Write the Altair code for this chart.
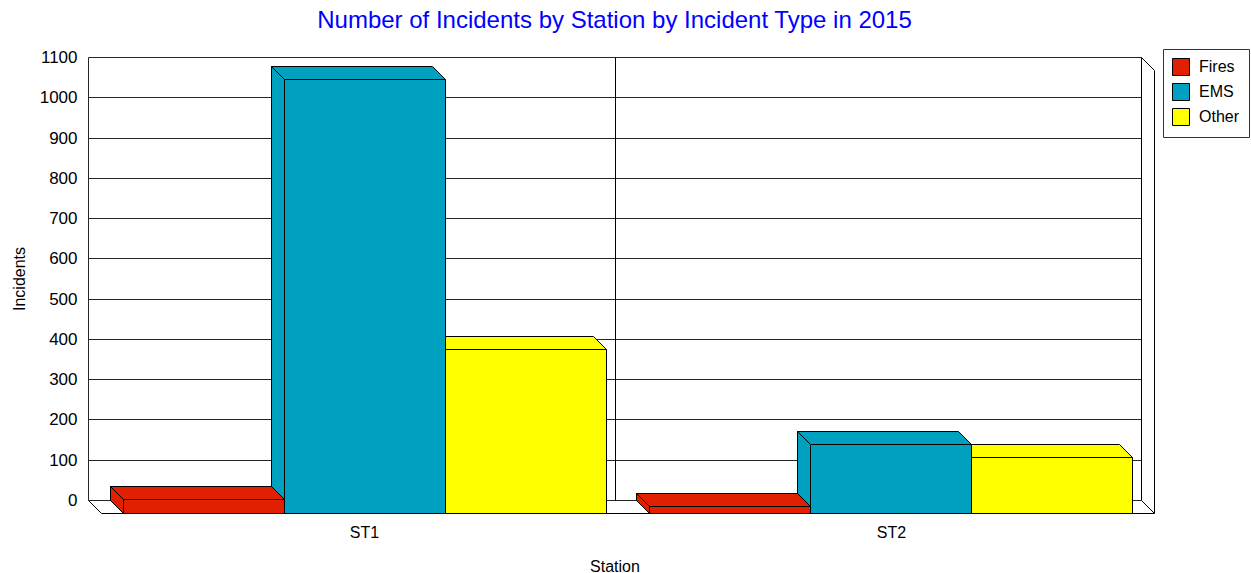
import altair as alt
import pandas as pd

# ---- chart values ----
stations = ["ST1", "ST2"]
incident_types = ["Fires", "EMS", "Other"]
fires = [36, 18]
ems = [1078, 172]
other = [408, 139]
type_colors = ["#E02000", "#00A0C0", "#FFFF00"]
y_ticks = [0, 100, 200, 300, 400, 500, 600, 700, 800, 900, 1000, 1100]

# ---- look of the pseudo-3D box ----
DEPTH = 13        # pixel shift from the back face to the front face
GAP = 0.136       # empty space on each side of a station group, in bar widths
LINE = "#000000"
GRID = "#262626"
FONT = "Liberation Sans"
PLOT_W, PLOT_H = 1053, 443

group_w = len(incident_types) + 2 * GAP
x_max = group_w * len(stations)
y_max = y_ticks[-1]

values_by_type = dict(zip(incident_types, [fires, ems, other]))
bar_rows, seg_rows = [], []
for si, st in enumerate(stations):
    for ti, t in enumerate(incident_types):
        x0 = si * group_w + GAP + ti
        x1 = x0 + 1
        v = values_by_type[t][si]
        bar_rows.append({"station": st, "type": t, "x0": x0, "x1": x1,
                         "value": v, "base": 0})
        seg_rows += [
            {"type": t, "kind": "back", "x": x0, "x2": x1, "y": v, "y2": v},
            {"type": t, "kind": "back", "x": x0, "x2": x0, "y": 0, "y2": v},
            {"type": t, "kind": "diag", "x": x0, "x2": x0, "y": v, "y2": v},
            {"type": t, "kind": "diag", "x": x1, "x2": x1, "y": v, "y2": v},
            {"type": t, "kind": "diag", "x": x0, "x2": x0, "y": 0, "y2": 0},
        ]
bars = pd.DataFrame(bar_rows)
segs = pd.DataFrame(seg_rows)

# walls, floor and the separators between station groups
frame_rows = [
    {"kind": "back", "x": x_max, "x2": x_max, "y": 0, "y2": y_max},
    {"kind": "diag", "x": x_max, "x2": x_max, "y": y_max, "y2": y_max},
    {"kind": "diag", "x": x_max, "x2": x_max, "y": 0, "y2": 0},
    {"kind": "diag", "x": 0, "x2": 0, "y": 0, "y2": 0},
    {"kind": "front", "x": x_max, "x2": x_max, "y": 0, "y2": y_max},
    {"kind": "front", "x": 0, "x2": x_max, "y": 0, "y2": 0},
]
for i in range(1, len(stations)):
    frame_rows.append({"kind": "back", "x": i * group_w, "x2": i * group_w,
                       "y": 0, "y2": y_max})
frame = pd.DataFrame(frame_rows)

x_scale = alt.Scale(domain=[0, x_max], nice=False, zero=False, round=True)
y_scale = alt.Scale(domain=[0, y_max], nice=False, zero=True, round=True)

centers = [group_w * (i + 0.5) for i in range(len(stations))]
label_expr = "''"
for i in reversed(range(len(stations))):
    label_expr = f"datum.value < {group_w * (i + 1)} ? '{stations[i]}' : ({label_expr})"

x_axis = alt.Axis(
    values=centers, labelExpr=label_expr, title="Station",
    grid=False, domain=False, ticks=False, tickSize=0,
    labelOffset=DEPTH, labelPadding=37, labelBaseline="alphabetic",
    labelFont=FONT, labelFontSize=16, labelColor="#000000",
    titleFont=FONT, titleFontSize=16, titleFontWeight="normal", titleColor="#000000",
    titleX=PLOT_W / 2, titleY=71, titleAlign="center", titleBaseline="alphabetic",
)
y_axis = alt.Axis(
    values=y_ticks, format="d", title="Incidents",
    grid=True, gridColor=GRID, gridWidth=1,
    domain=True, domainColor=GRID, domainWidth=1, ticks=False, tickSize=0,
    labelFont=FONT, labelFontSize=17, labelColor="#000000", labelPadding=11,
    titleFont=FONT, titleFontSize=16, titleFontWeight="normal", titleColor="#000000",
    titleAngle=270, titleX=-64, titleY=PLOT_H / 2, titleAlign="center",
    titleBaseline="alphabetic",
)

legend = alt.Legend(
    title=None, orient="none", legendX=1075, legendY=-8, direction="vertical",
    symbolType="square", symbolSize=289, symbolStrokeColor=LINE, symbolStrokeWidth=1,
    symbolOpacity=1, labelFont=FONT, labelFontSize=16, labelColor="#000000",
    labelOffset=9, rowPadding=3, padding=9, strokeColor="#333333", fillColor="#FFFFFF",
)
color = alt.Color("type:N", scale=alt.Scale(domain=incident_types, range=type_colors),
                  legend=legend)


def pos(xf, x2f, yf, y2f):
    """Shared position encodings; every layer carries the same axes."""
    return dict(
        x=alt.X(xf, scale=x_scale, axis=x_axis), x2=x2f,
        y=alt.Y(yf, scale=y_scale, axis=y_axis), y2=y2f,
    )


def seg_layer(df, d1, d2):
    """Line segments from (x, y) shifted by d1 px to (x2, y2) shifted by d2 px."""
    return alt.Chart(df).mark_rule(
        color=LINE, strokeWidth=1,
        xOffset=d1 + 0.5, yOffset=d1 + 0.5, x2Offset=d2 + 0.5, y2Offset=d2 + 0.5,
    ).encode(**pos("x:Q", "x2:Q", "y:Q", "y2:Q"))


layers = [
    seg_layer(frame[frame.kind == "back"], 0, 0),
    seg_layer(frame[frame.kind == "diag"], 0, DEPTH),
    seg_layer(frame[frame.kind == "front"], DEPTH, DEPTH),
]

# bars are painted right to left inside each group so the left faces overlap correctly
for t, c in reversed(list(zip(incident_types, type_colors))):
    b = bars[bars.type == t]
    for k in range(DEPTH):
        layers.append(
            alt.Chart(b).mark_rect(color=c, xOffset=k, x2Offset=k, yOffset=k, y2Offset=k)
            .encode(**pos("x0:Q", "x1:Q", "value:Q", "base:Q"))
        )
    layers.append(
        alt.Chart(b).mark_rect(
            stroke=LINE, strokeWidth=1,
            xOffset=DEPTH + 0.5, x2Offset=DEPTH + 0.5,
            yOffset=DEPTH + 0.5, y2Offset=DEPTH + 0.5,
        ).encode(color=color, **pos("x0:Q", "x1:Q", "value:Q", "base:Q"))
    )
    s = segs[segs.type == t]
    layers.append(seg_layer(s[s.kind == "back"], 0, 0))
    layers.append(seg_layer(s[s.kind == "diag"], 0, DEPTH))

chart = alt.layer(*layers).properties(
    width=PLOT_W,
    height=PLOT_H,
    title=alt.Title(
        "Number of Incidents by Station by Incident Type in 2015",
        font=FONT, fontSize=24, fontWeight="normal", color="#0000FF",
        anchor="middle", frame="group", baseline="alphabetic", offset=-4,
    ),
    autosize=alt.AutoSizeParams(type="none"),
    padding={"left": 88, "top": 57, "right": 1251 - 88 - PLOT_W, "bottom": 573 - 57 - PLOT_H},
    background="#FFFFFF",
).configure_view(stroke=None)

chart.save("out.html", embed_options={"renderer": "svg", "actions": False})
